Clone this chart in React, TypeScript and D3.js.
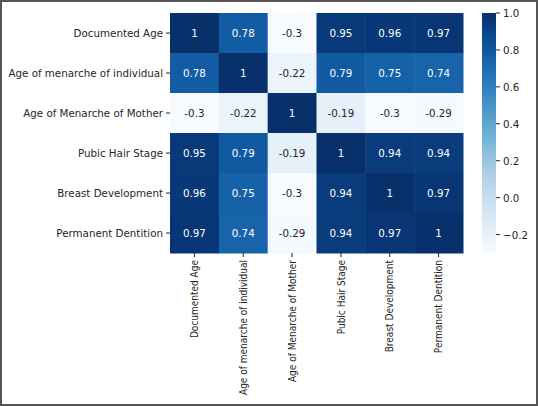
import React from "react";
import * as d3 from "d3";

const labels = [
  "Documented Age",
  "Age of menarche of individual",
  "Age of Menarche of Mother",
  "Pubic Hair Stage",
  "Breast Development",
  "Permanent Dentition",
];

const row0 = [1, 0.78, -0.3, 0.95, 0.96, 0.97];
const row1 = [0.78, 1, -0.22, 0.79, 0.75, 0.74];
const row2 = [-0.3, -0.22, 1, -0.19, -0.3, -0.29];
const row3 = [0.95, 0.79, -0.19, 1, 0.94, 0.94];
const row4 = [0.96, 0.75, -0.3, 0.94, 1, 0.97];
const row5 = [0.97, 0.74, -0.29, 0.94, 0.97, 1];
const matrix = [row0, row1, row2, row3, row4, row5];

const cbTicks = [1.0, 0.8, 0.6, 0.4, 0.2, 0.0, -0.2];
const vmin = -0.3;
const vmax = 1.0;

const W = 538;
const H = 406;
const left = 170;
const top = 13;
const right = 463;
const bottom = 253;
const cbX = 482;
const cbW = 14;
const FONT = "DejaVu Sans, sans-serif";
const FS = 10.3;
const VSCALE = 0.875;

export default function App() {
  const x = d3.scaleBand<string>().domain(labels).range([left, right]);
  const y = d3.scaleBand<string>().domain(labels).range([top, bottom]);
  const color = (v: number) => d3.interpolateBlues((v - vmin) / (vmax - vmin));
  const cbY = d3.scaleLinear().domain([vmin, vmax]).range([bottom, top]);
  const stops = d3.range(0, 1.0001, 0.05);

  const textColor = (v: number) => {
    const c = d3.rgb(color(v));
    const lum = (0.2126 * c.r + 0.7152 * c.g + 0.0722 * c.b) / 255;
    return lum > 0.45 ? "#262626" : "#ffffff";
  };

  return (
    <svg
      width={W}
      height={H}
      style={{ position: "absolute", left: 0, top: 0, display: "block", background: "#fff" }}
      fontFamily={FONT}
    >
      <defs>
        <linearGradient id="cbgrad" x1="0" y1="1" x2="0" y2="0">
          {stops.map((t) => (
            <stop key={t} offset={t} stopColor={d3.interpolateBlues(t)} />
          ))}
        </linearGradient>
      </defs>
      <rect x={0} y={0} width={W} height={H} fill="#fff" />
      {matrix.map((row, i) =>
        row.map((v, j) => (
          <g key={`${i}-${j}`}>
            <rect
              x={x(labels[j])!}
              y={y(labels[i])!}
              width={x.bandwidth() + 0.5}
              height={y.bandwidth() + 0.5}
              fill={color(v)}
            />
            <text
              x={x(labels[j])! + x.bandwidth() / 2}
              y={y(labels[i])! + y.bandwidth() / 2}
              textAnchor="middle"
              dominantBaseline="central"
              fontSize={FS}
              fill={textColor(v)}
            >
              {String(v)}
            </text>
          </g>
        ))
      )}
      {labels.map((l) => (
        <g key={"y" + l}>
          <line
            x1={left - 4}
            x2={left}
            y1={y(l)! + y.bandwidth() / 2}
            y2={y(l)! + y.bandwidth() / 2}
            stroke="#262626"
            strokeWidth={1}
          />
          <text
            x={left - 7}
            y={y(l)! + y.bandwidth() / 2}
            textAnchor="end"
            dominantBaseline="central"
            fontSize={FS}
            fill="#262626"
          >
            {l}
          </text>
        </g>
      ))}
      {labels.map((l) => {
        const cx = x(l)! + x.bandwidth() / 2;
        return (
          <g key={"x" + l}>
            <line x1={cx} x2={cx} y1={bottom} y2={bottom + 4} stroke="#262626" strokeWidth={1} />
            <text
              transform={`translate(${cx},${bottom + 7}) scale(1,${VSCALE}) rotate(-90)`}
              textAnchor="end"
              dominantBaseline="central"
              fontSize={FS}
              fill="#262626"
            >
              {l}
            </text>
          </g>
        );
      })}
      <rect x={cbX} y={top} width={cbW} height={bottom - top} fill="url(#cbgrad)" />
      {cbTicks.map((t) => (
        <g key={"cb" + t}>
          <line
            x1={cbX + cbW}
            x2={cbX + cbW + 4}
            y1={cbY(t)}
            y2={cbY(t)}
            stroke="#262626"
          />
          <text
            x={cbX + cbW + 7}
            y={cbY(t)}
            dominantBaseline="central"
            fontSize={FS}
            fill="#262626"
          >
            {t < 0 ? "\u2212" + Math.abs(t).toFixed(1) : t.toFixed(1)}
          </text>
        </g>
      ))}
      <rect x={1} y={1} width={W - 2} height={H - 2} fill="none" stroke="#555" strokeWidth={2} />
    </svg>
  );
}
